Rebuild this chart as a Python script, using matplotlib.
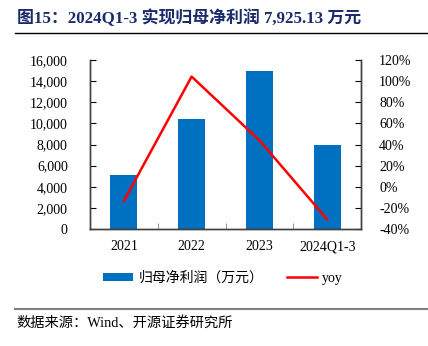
import matplotlib
matplotlib.use("Agg")
import matplotlib.pyplot as plt
from matplotlib.lines import Line2D
from matplotlib.patches import Patch
from matplotlib.ticker import FuncFormatter, MultipleLocator

categories = ["2021", "2022", "2023", "2024Q1-3"]
net_profit = [5084, 10386, 14959, 7925.13]
yoy_pct = [-13.5, 104.3, 44.0, -30.8]

bar_label = "归母净利润（万元）"
line_label = "yoy"
title_text = "图15：2024Q1-3 实现归母净利润 7,925.13 万元"
source_text = "数据来源：Wind、开源证券研究所"

serif_cjk = ["Liberation Serif", "Noto Sans CJK SC"]
plt.rcParams["font.family"] = serif_cjk

fig = plt.figure(figsize=(4.28, 3.46), dpi=100)
ax = fig.add_axes([90 / 428, 1 - 229 / 346, 271 / 428, 169 / 346])
ax2 = ax.twinx()

x = list(range(len(categories)))
ax.bar(x, net_profit, width=0.4, color="#0070C0", zorder=2)
ax2.plot(x, yoy_pct, color="#FF0000", linewidth=1.8, zorder=3)

ax.set_xlim(-0.5, len(categories) - 0.5)
ax.set_ylim(0, 16000)
ax.yaxis.set_major_locator(MultipleLocator(2000))
ax.yaxis.set_major_formatter(FuncFormatter(lambda v, p: f"{int(v):,}"))
ax2.set_ylim(-40, 120)
ax2.yaxis.set_major_locator(MultipleLocator(20))
ax2.yaxis.set_major_formatter(FuncFormatter(lambda v, p: f"{int(v)}%"))

ax.set_xticks(x)
ax.set_xticklabels(categories)
ax.set_xticks([i + 0.5 for i in x[:-1]], minor=True)
ax.tick_params(axis="x", which="major", length=0, pad=8, labelsize=10)
ax.tick_params(axis="x", which="minor", direction="in", length=4, color="#808080")
ax.tick_params(axis="y", direction="in", length=4, pad=16, labelsize=10)
ax2.tick_params(axis="y", direction="in", length=4, pad=13, labelsize=10)

for a in (ax, ax2):
    a.spines["top"].set_visible(False)
    for s in ("left", "right", "bottom"):
        a.spines[s].set_color("#404040")
        a.spines[s].set_linewidth(1.0)

handles = [
    Patch(facecolor="#0070C0", edgecolor="none"),
    Line2D([0], [0], color="#FF0000", linewidth=1.8),
]
fig.legend(handles, [bar_label, line_label], loc="center",
           bbox_to_anchor=(223 / 428, 1 - 278 / 346), ncol=2, frameon=False,
           fontsize=10, handlelength=2.2, handleheight=0.5,
           handletextpad=0.35, columnspacing=1.7)

fig.text(17 / 428, 1 - 18 / 346, title_text, fontsize=12.2, fontweight="bold",
         color="#1B2A6B", va="center", ha="left")
fig.add_artist(Line2D([15 / 428, 1], [1 - 33 / 346] * 2, color="black", linewidth=1.0))
fig.add_artist(Line2D([15 / 428, 1], [1 - 309 / 346] * 2, color="#808080", linewidth=1.5))
fig.text(16 / 428, 1 - 323 / 346, source_text, fontsize=10.3, va="center", ha="left")

fig.savefig("out.png", dpi=100)
